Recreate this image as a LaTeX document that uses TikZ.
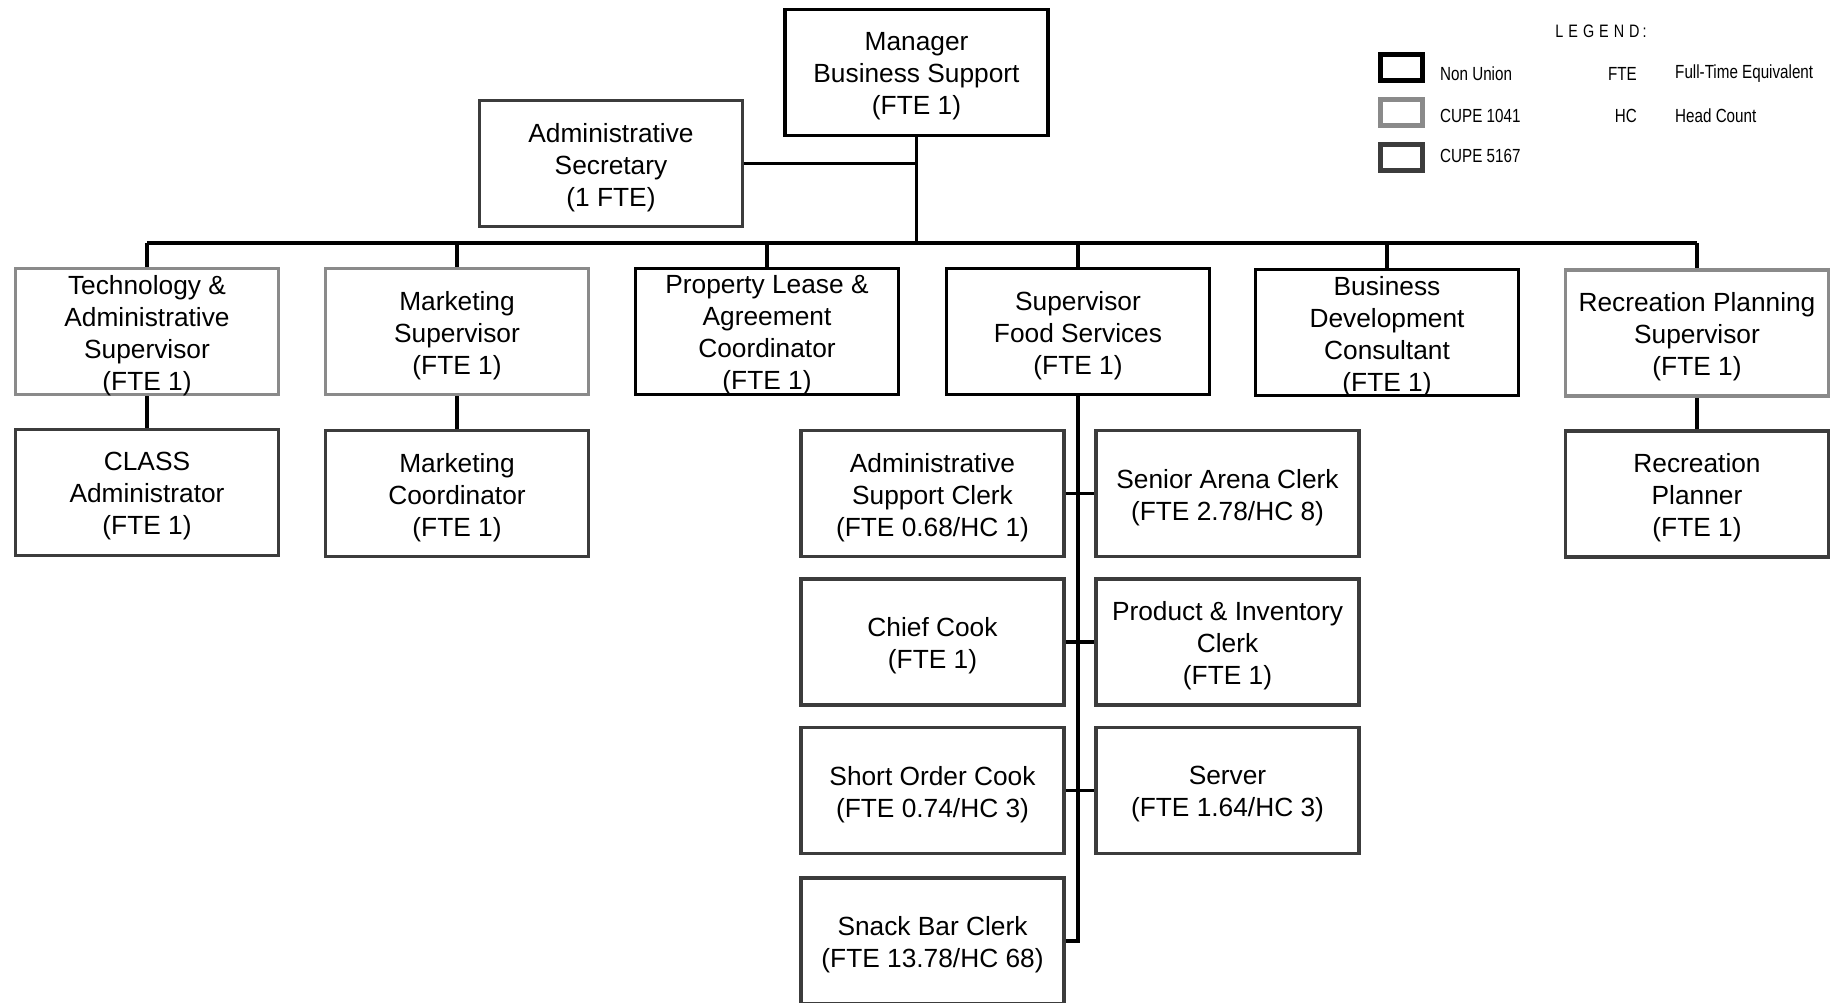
\documentclass[tikz,border=0pt]{standalone}
\usepackage{fontspec}
\setmainfont{Liberation Sans}
\newfontfamily\narrowfont[FakeStretch=0.8]{Liberation Sans}
\definecolor{cupeAcol}{HTML}{8A8A8A}
\definecolor{cupeBcol}{HTML}{3C3C3C}
\newcommand{\orgnode}[4]{%
  \node[#2] (#1) at (#3) {};
  \node[boxtext] (#1-t) at ([yshift=-4pt]#1.center) {#4};}
\begin{document}
\begin{tikzpicture}[x=1pt,y=-1pt,
  orgbox/.style={draw, line width=3.5pt, minimum width=263pt, minimum height=126pt, inner sep=0pt},
  boxtext/.style={inner sep=0pt, align=center, font=\fontsize{26.3}{32}\selectfont},
  nonunion/.style={orgbox, draw=black},
  cupeA/.style={orgbox, draw=cupeAcol},
  cupeB/.style={orgbox, draw=cupeBcol},
  conn/.style={draw=black, line width=3.2pt},
  legbox/.style={draw, line width=4.5pt, minimum width=42pt, minimum height=26pt, inner sep=0pt},
  legtext/.style={inner sep=0pt, font=\narrowfont\fontsize{19}{22}\selectfont}]
\useasboundingbox (0,0) rectangle (1837,1002);
\clip (0,0) rectangle (1837,1002);

% top level
\orgnode{mgr}{nonunion}{916.5,72.5}{Manager\\Business Support\\(FTE 1)}
\orgnode{sec}{cupeB}{611,163.5}{Administrative\\Secretary\\(1 FTE)}

% second level
\orgnode{tech}{cupeA}{147,331.5}{Technology \&\\Administrative\\Supervisor\\(FTE 1)}
\orgnode{mks}{cupeA}{457,331.5}{Marketing\\Supervisor\\(FTE 1)}
\orgnode{prop}{nonunion}{767,331.5}{Property Lease \&\\Agreement\\Coordinator\\(FTE 1)}
\orgnode{sfs}{nonunion}{1078,331.5}{Supervisor\\Food Services\\(FTE 1)}
\orgnode{bdc}{nonunion}{1387,332.5}{Business\\Development\\Consultant\\(FTE 1)}
\orgnode{rps}{cupeA}{1697,333}{Recreation Planning\\Supervisor\\(FTE 1)}

% third level
\orgnode{cls}{cupeB}{147,492.5}{CLASS\\Administrator\\(FTE 1)}
\orgnode{mkc}{cupeB}{457,493.5}{Marketing\\Coordinator\\(FTE 1)}
\orgnode{rp}{cupeB}{1697,494}{Recreation\\Planner\\(FTE 1)}

% food services staff
\orgnode{asc}{cupeB}{932.5,493.5}{Administrative\\Support Clerk\\(FTE 0.68/HC 1)}
\orgnode{sac}{cupeB}{1227.5,493.5}{Senior Arena Clerk\\(FTE 2.78/HC 8)}
\orgnode{cc}{cupeB}{932.5,642}{Chief Cook\\(FTE 1)}
\orgnode{pic}{cupeB}{1227.5,642}{Product \& Inventory\\Clerk\\(FTE 1)}
\orgnode{soc}{cupeB}{932.5,790.5}{Short Order Cook\\(FTE 0.74/HC 3)}
\orgnode{srv}{cupeB}{1227.5,790.5}{Server\\(FTE 1.64/HC 3)}
\orgnode{sbc}{cupeB}{932.5,941}{Snack Bar Clerk\\(FTE 13.78/HC 68)}

% connectors
\coordinate (barL) at (147,243);
\coordinate (barR) at (1697,243);
\coordinate (barM) at (916.5,243);
\draw[conn] (mgr.south) -- (barM);
\draw[conn] (sec.east) -- (sec.east -| mgr.south);
\draw[conn] (barL) -- (barR);
\foreach \n in {tech,mks,prop,sfs,bdc,rps}{
  \draw[conn] (\n.north |- barL) -- (\n.north);
}
\draw[conn] (tech.south) -- (cls.north);
\draw[conn] (mks.south) -- (mkc.north);
\draw[conn] (rps.south) -- (rp.north);
\draw[conn] (sfs.south) -- (sfs.south |- sbc.east) -- (sbc.east);
\draw[conn] (asc.east) -- (sac.west);
\draw[conn] (cc.east) -- (pic.west);
\draw[conn] (soc.east) -- (srv.west);

% legend
\node[legtext, font=\narrowfont\fontsize{18}{20}\selectfont] (legtitle) at (1601,31) {L\hspace{5pt}E\hspace{5pt}G\hspace{5pt}E\hspace{5pt}N\hspace{5pt}D\hspace{3pt}:};
\node[legbox, draw=black] (lk1) at (1401.5,67.5) {};
\node[legbox, draw=cupeAcol] (lk2) at (1401.5,112.5) {};
\node[legbox, draw=cupeBcol] (lk3) at (1401.5,157.5) {};
\node[legtext, anchor=west] (lt1) at (1440,74) {Non Union};
\node[legtext, anchor=west] (lt2) at (1440,116) {CUPE 1041};
\node[legtext, anchor=west] (lt3) at (1440,156) {CUPE 5167};
\node[legtext, anchor=east] (la1) at (1637,74) {FTE};
\node[legtext, anchor=east] (la2) at (1637,116) {HC};
\node[legtext, anchor=west] (ld1) at (1675,74) {Full-Time Equivalent};
\node[legtext, anchor=west] (ld2) at (1675,116) {Head Count};
\end{tikzpicture}
\end{document}
